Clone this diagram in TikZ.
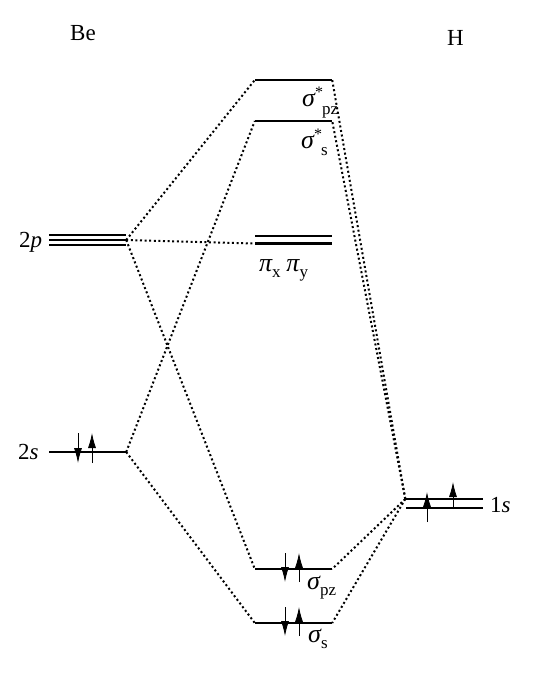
\documentclass[tikz,border=0pt]{standalone}
\usepackage{fontspec}
\setmainfont{Liberation Serif}
\usetikzlibrary{arrows.meta}
\tikzset{
  level/.style={fill=black,inner sep=0pt,minimum width=77pt,minimum height=2.7pt},
  mix/.style={line width=2pt,dash pattern=on 2pt off 2.6pt},
  spin/.style={line width=0.8pt,-{Latex[length=15pt,width=8pt]}},
  lbl/.style={font=\fontsize{23}{25}\selectfont,inner sep=0pt}
}
\newcommand{\lvgr}[1]{{\fontsize{26}{26}\selectfont\itshape #1}}
\newcommand{\lvsub}[2][-6pt]{\raisebox{#1}{\fontsize{17}{17}\selectfont #2}}
\newcommand{\lvstar}{\raisebox{9pt}{\fontsize{16}{16}\selectfont *}}
\begin{document}
\begin{tikzpicture}[x=1pt,y=-1pt]
\useasboundingbox (0,0) rectangle (558,673);
% atoms
\node[lbl,anchor=base west] (be) at (70,40) {Be};
\node[lbl,anchor=base west] (h) at (447,45) {H};
% Be levels
\node[level] (be2pa) at (87.5,235) {};
\node[level] (be2pb) at (87.5,240) {};
\node[level] (be2pc) at (87.5,245) {};
\node[level] (be2s) at (87.5,452) {};
\node[lbl,anchor=base west] at (19,247) {2\textit{p}};
\node[lbl,anchor=base west] at (18,459) {2\textit{s}};
% H levels
\node[level] (h1sa) at (444,499) {};
\node[level] (h1sb) at (444,508) {};
\node[lbl,anchor=base west] at (490,512) {1\textit{s}};
% molecular levels
\node[level] (sgpzs) at (293.5,80) {};
\node[level] (sgss) at (293.5,121) {};
\node[level] (pix) at (293.5,236) {};
\node[level] (piy) at (293.5,243.5) {};
\node[level] (sgpz) at (293.5,569) {};
\node[level] (sgs) at (293.5,623) {};
\node[lbl,anchor=base west] at (302,106) {\lvgr{σ}\lvstar\hspace{-1pt}\lvsub[-8pt]{pz}};
\node[lbl,anchor=base west] at (301,148) {\lvgr{σ}\lvstar\hspace{-1pt}\lvsub[-7pt]{s}};
\node[lbl,anchor=base west] at (259,271) {\lvgr{π}\lvsub{x} \lvgr{π}\lvsub{y}};
\node[lbl,anchor=base west] at (307,589) {\lvgr{σ}\lvsub[-6pt]{pz}};
\node[lbl,anchor=base west] at (308,642) {\lvgr{σ}\lvsub[-6pt]{s}};
% correlation lines
\draw[mix] (be2pb.east) -- (sgpzs.west);
\draw[mix] (be2pb.east) -- (piy.west);
\draw[mix] (be2pb.east) -- (sgpz.west);
\draw[mix] (be2s.east) -- (sgss.west);
\draw[mix] (be2s.east) -- (sgs.west);
\draw[mix] (h1sa.west) -- (sgpzs.east);
\draw[mix] (h1sa.west) -- (sgss.east);
\draw[mix] (h1sa.west) -- (sgpz.east);
\draw[mix] (h1sa.west) -- (sgs.east);
% electrons
\draw[spin] (78,433) -- (78,463);
\draw[spin] (92,463) -- (92,433);
\draw[spin] (285,553) -- (285,582);
\draw[spin] (299,582) -- (299,553);
\draw[spin] (285,607) -- (285,636);
\draw[spin] (299,636) -- (299,607);
\draw[spin] (427,522) -- (427,492);
\draw[spin] (453,509) -- (453,482);
\end{tikzpicture}
\end{document}
